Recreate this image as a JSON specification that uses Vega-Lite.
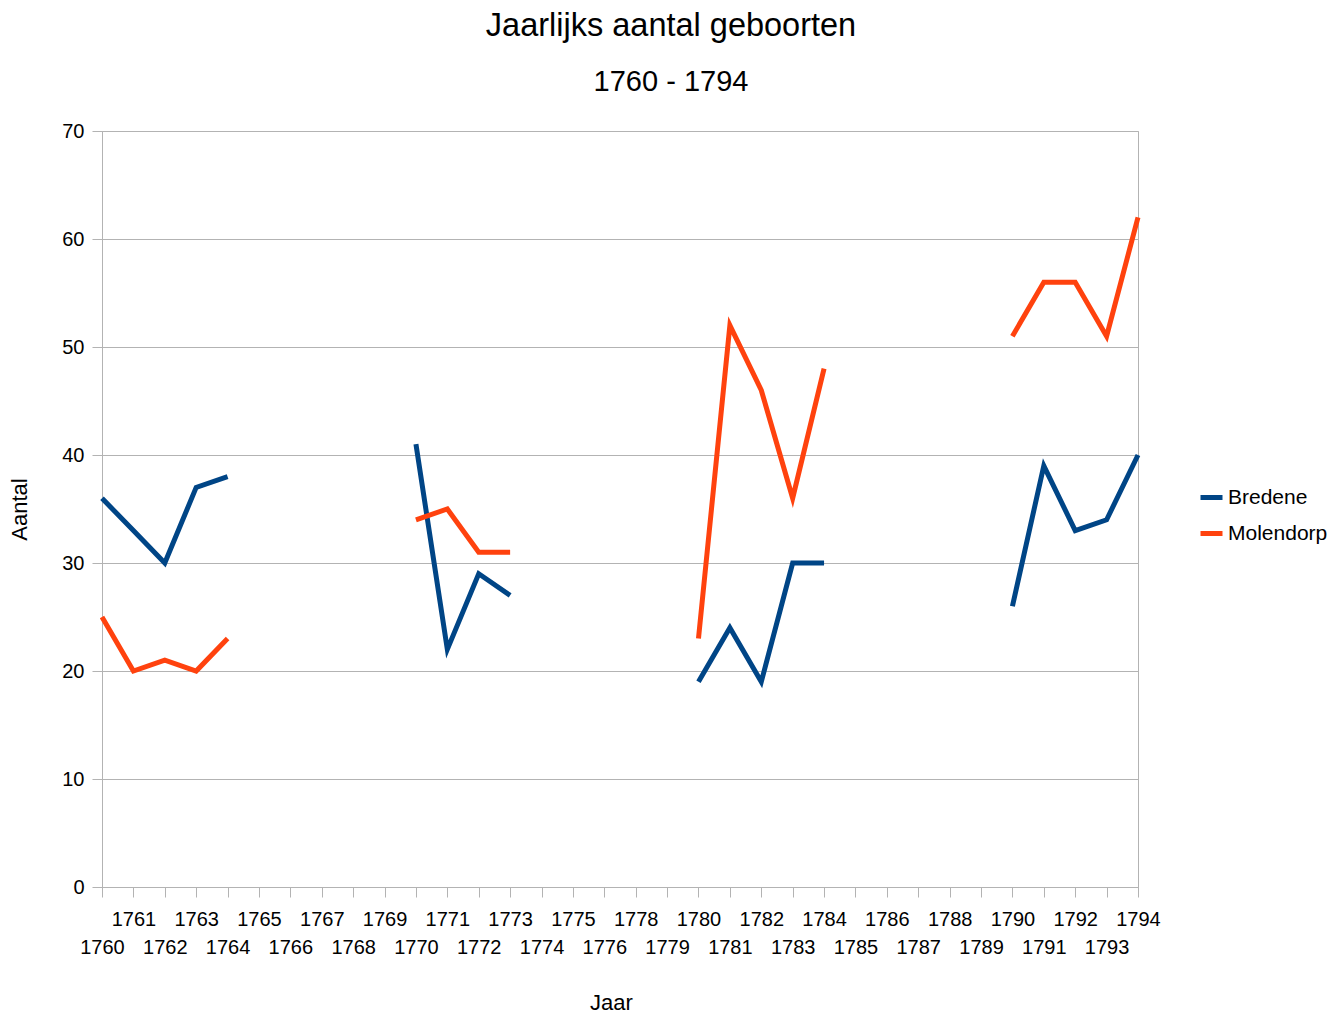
{
  "$schema": "https://vega.github.io/schema/vega-lite/v6.json",
  "width": 1036,
  "height": 756,
  "autosize": {"type": "none"},
  "padding": {"left": 102, "top": 131, "right": 205, "bottom": 127},
  "background": "white",
  "config": {
    "font": "Liberation Sans",
    "view": {"stroke": "#b3b3b3", "strokeWidth": 1},
    "axis": {"labelColor": "#000000", "titleColor": "#000000", "titleFontWeight": "normal", "domainColor": "#b3b3b3", "tickColor": "#b3b3b3", "gridColor": "#b3b3b3", "labelFont": "Liberation Sans", "titleFont": "Liberation Sans"},
    "legend": {"labelFont": "Liberation Sans", "labelColor": "#000000"}
  },
  "title": {
    "text": "Jaarlijks aantal geboorten",
    "subtitle": "1760 - 1794",
    "anchor": "middle",
    "dx": 51,
    "font": "Liberation Sans",
    "fontSize": 32.5,
    "fontWeight": "normal",
    "color": "#000000",
    "subtitleFont": "Liberation Sans",
    "subtitleFontSize": 29,
    "subtitleColor": "#000000",
    "subtitlePadding": 26,
    "offset": 24
  },
  "data": {
    "values": [
      {"Jaar": 1760, "Bredene": 36, "Molendorp": 25},
      {"Jaar": 1761, "Bredene": 33, "Molendorp": 20},
      {"Jaar": 1762, "Bredene": 30, "Molendorp": 21},
      {"Jaar": 1763, "Bredene": 37, "Molendorp": 20},
      {"Jaar": 1764, "Bredene": 38, "Molendorp": 23},
      {"Jaar": 1765, "Bredene": null, "Molendorp": null},
      {"Jaar": 1766, "Bredene": null, "Molendorp": null},
      {"Jaar": 1767, "Bredene": null, "Molendorp": null},
      {"Jaar": 1768, "Bredene": null, "Molendorp": null},
      {"Jaar": 1769, "Bredene": null, "Molendorp": null},
      {"Jaar": 1770, "Bredene": 41, "Molendorp": 34},
      {"Jaar": 1771, "Bredene": 22, "Molendorp": 35},
      {"Jaar": 1772, "Bredene": 29, "Molendorp": 31},
      {"Jaar": 1773, "Bredene": 27, "Molendorp": 31},
      {"Jaar": 1774, "Bredene": null, "Molendorp": null},
      {"Jaar": 1775, "Bredene": null, "Molendorp": null},
      {"Jaar": 1776, "Bredene": null, "Molendorp": null},
      {"Jaar": 1778, "Bredene": null, "Molendorp": null},
      {"Jaar": 1779, "Bredene": null, "Molendorp": null},
      {"Jaar": 1780, "Bredene": 19, "Molendorp": 23},
      {"Jaar": 1781, "Bredene": 24, "Molendorp": 52},
      {"Jaar": 1782, "Bredene": 19, "Molendorp": 46},
      {"Jaar": 1783, "Bredene": 30, "Molendorp": 36},
      {"Jaar": 1784, "Bredene": 30, "Molendorp": 48},
      {"Jaar": 1785, "Bredene": null, "Molendorp": null},
      {"Jaar": 1786, "Bredene": null, "Molendorp": null},
      {"Jaar": 1787, "Bredene": null, "Molendorp": null},
      {"Jaar": 1788, "Bredene": null, "Molendorp": null},
      {"Jaar": 1789, "Bredene": null, "Molendorp": null},
      {"Jaar": 1790, "Bredene": 26, "Molendorp": 51},
      {"Jaar": 1791, "Bredene": 39, "Molendorp": 56},
      {"Jaar": 1792, "Bredene": 33, "Molendorp": 56},
      {"Jaar": 1793, "Bredene": 34, "Molendorp": 51},
      {"Jaar": 1794, "Bredene": 40, "Molendorp": 62}
    ]
  },
  "transform": [
    {"fold": ["Bredene", "Molendorp"], "as": ["Plaats", "Aantal"]}
  ],
  "mark": {"type": "line", "strokeWidth": 5, "strokeJoin": "miter", "strokeCap": "butt"},
  "encoding": {
    "x": {
      "field": "Jaar",
      "type": "ordinal",
      "scale": {"type": "point", "padding": 0, "domain": [1760,1761,1762,1763,1764,1765,1766,1767,1768,1769,1770,1771,1772,1773,1774,1775,1776,1778,1779,1780,1781,1782,1783,1784,1785,1786,1787,1788,1789,1790,1791,1792,1793,1794]},
      "axis": {
        "title": "Jaar",
        "titleFontSize": 22,
        "titleX": 509,
        "titleY": 115,
        "titleBaseline": "middle",
        "labelFontSize": 20,
        "labelAngle": 0,
        "labelOverlap": false,
        "labelLineHeight": 28,
        "labelPadding": 12,
        "tickSize": 10,
        "grid": false,
        "labelExpr": "((datum.value < 1777) == (datum.value % 2 == 0)) ? ['', datum.label] : datum.label"
      }
    },
    "y": {
      "field": "Aantal",
      "type": "quantitative",
      "scale": {"domain": [0, 70]},
      "axis": {
        "title": "Aantal",
        "titleFontSize": 22,
        "titlePadding": 30,
        "labelFontSize": 20,
        "labelPadding": 8,
        "tickSize": 10,
        "values": [0,10,20,30,40,50,60,70],
        "grid": true
      }
    },
    "color": {
      "field": "Plaats",
      "type": "nominal",
      "scale": {"domain": ["Bredene", "Molendorp"], "range": ["#004586", "#ff420e"]},
      "legend": {
        "title": null,
        "orient": "none",
        "legendX": 1096,
        "legendY": 353,
        "symbolType": "stroke",
        "symbolStrokeWidth": 5,
        "symbolSize": 484,
        "labelFontSize": 21,
        "labelOffset": 3,
        "rowPadding": 12
      }
    }
  }
}
